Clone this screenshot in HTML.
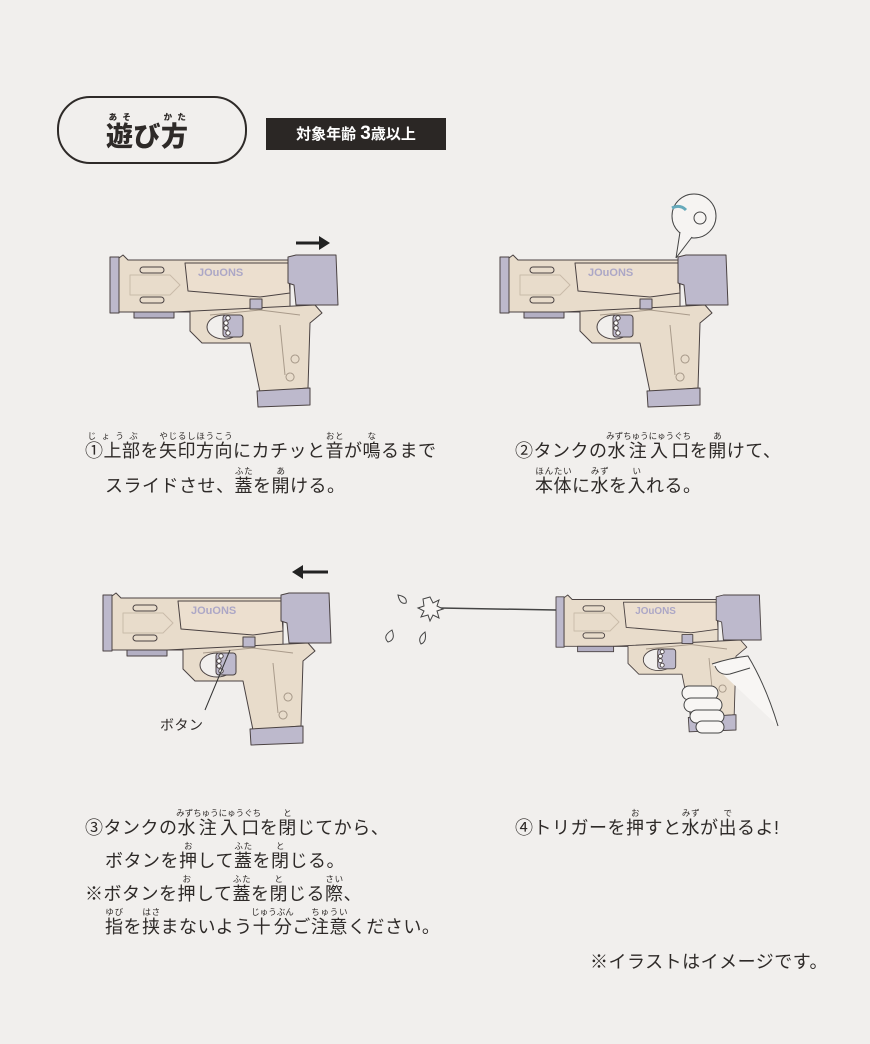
<!DOCTYPE html>
<html><head><meta charset="utf-8"><style>
body{margin:0;width:870px;height:1044px;background:#f1efed;position:relative;overflow:hidden;font-family:"Liberation Sans","Noto Sans CJK JP",sans-serif;color:#2e2a28}
.t{position:absolute;font-size:18px;line-height:22px;white-space:nowrap;letter-spacing:0.5px}
ruby rt{font-size:8.5px;letter-spacing:0;line-height:10px}
svg{position:absolute;left:0;top:0}
</style></head><body>
<div style="position:absolute;left:57px;top:96px;width:186px;height:64px;border:2px solid #2e2a28;border-radius:33px"></div>
<div class="t" style="left:106px;top:112px;font-size:27px;line-height:34px;font-weight:900"><ruby>遊<rt>あそ</rt></ruby>び<ruby>方<rt>かた</rt></ruby></div>
<div style="position:absolute;left:266px;top:118px;width:180px;height:32px;background:#2b2725;color:#fff;font-weight:bold;font-size:15px;line-height:32px;text-align:center">対象年齢 <span style="font-size:19px">3</span>歳以上</div>

<svg width="870" height="1044" viewBox="0 0 870 1044">
<defs>
<g id="gun" stroke="#4a4242" stroke-width="1" stroke-linejoin="round">
<rect x="0" y="2" width="9" height="56" fill="#bdb9cc"/>
<polygon points="9,3 13,0 18,5 180,5 180,57 9,57" fill="#e8dccb"/>
<polygon points="75,8 178,8 180,38 150,42 78,36" fill="#ecdfcf"/>
<rect x="24" y="57" width="40" height="6" fill="#b3afc3"/>
<polygon points="64,57 205,50 212,58 200,68 198,133 150,137 140,88 92,88 80,76 80,57" fill="#e8dccb"/>
<ellipse cx="114" cy="72" rx="17" ry="12" fill="#f1efed"/>
<rect x="113" y="60" width="20" height="22" rx="3" fill="#bdb9cc"/>
<circle cx="118" cy="63" r="2.2" fill="#fff"/><circle cx="116" cy="68" r="2.2" fill="#fff"/><circle cx="116" cy="73" r="2.2" fill="#fff"/><circle cx="118" cy="78" r="2.2" fill="#fff"/>
<polygon points="147,136 200,133 200,150 148,152" fill="#bdb9cc"/>
<polygon points="178,2 186,0 226,0 228,50 218,50 186,50 184,30 178,28" fill="#bdb9cc"/>
<rect x="140" y="44" width="12" height="10" fill="#bdb9cc"/>
<rect x="30" y="12" width="24" height="6" rx="3" fill="none"/><rect x="30" y="42" width="24" height="6" rx="3" fill="none"/>
<path d="M20 20 L60 20 L70 30 L60 40 L20 40 Z" fill="none" stroke="#c9bba9"/>
<path d="M100 60 L150 55 L190 60 M170 70 L175 120 M185 100 a4 4 0 1 0 0.1 0 M180 118 a4 4 0 1 0 0.1 0" fill="none" stroke="#a89a8a"/>
<text x="88" y="21" font-family="Liberation Sans" font-weight="bold" font-size="11" fill="#aca7c6" stroke="none">JOuONS</text>
</g>
</defs>
<use href="#gun" transform="translate(110,255)"/>
<use href="#gun" transform="translate(500,255)"/>
<use href="#gun" transform="translate(103,593)"/>
<use href="#gun" transform="translate(556,595) scale(0.9)"/>
<path d="M296 243 H322" stroke="#222" stroke-width="3"/><polygon points="330,243 319,236 319,250" fill="#222"/>
<path d="M328 572 H300" stroke="#222" stroke-width="3"/><polygon points="292,572 303,565 303,579" fill="#222"/>
<circle cx="694" cy="216" r="22" fill="#f6f4f2" stroke="#444"/>
<path d="M680 232 L676 258 L692 237" fill="#f6f4f2" stroke="#444"/>
<path d="M672 208 q8 -4 14 2" stroke="#6ab" stroke-width="3" fill="none"/>
<circle cx="700" cy="218" r="6" fill="none" stroke="#444"/>
<path d="M230 650 L205 710" stroke="#333"/>
<path d="M440 608 L556 610" stroke="#444" stroke-width="1.5"/>
<path d="M430 597 l3 6 6 -3 -2 6 6 3 -6 2 2 7 -6 -3 -3 6 -2 -6 -7 2 3 -6 -6 -3 6 -2 -1 -7z" fill="#f6f4f2" stroke="#444"/>
<path d="M398 595 q10 2 8 8 q-6 2 -8 -8z M392 630 q-10 6 -4 12 q8 -2 4 -12z M425 632 q-8 6 -4 12 q6 -2 4 -12z" fill="none" stroke="#444"/>
<!-- hand -->
<g fill="#f8f6f4" stroke="#444">
<path d="M712 664 q18 -6 36 -8 q18 30 30 70"/>
<path d="M715 666 q4 10 15 8 l20 -6"/>
<rect x="682" y="686" width="36" height="14" rx="7"/>
<rect x="684" y="698" width="38" height="14" rx="7"/>
<rect x="690" y="710" width="34" height="13" rx="6.5"/>
<rect x="696" y="721" width="28" height="12" rx="6"/>
</g>
</svg>

<div class="t" style="left:85px;top:431px"><ruby>①上部<rt>じょうぶ</rt></ruby>を<ruby>矢印<rt>やじるし</rt></ruby><ruby>方向<rt>ほうこう</rt></ruby>にカチッと<ruby>音<rt>おと</rt></ruby>が<ruby>鳴<rt>な</rt></ruby>るまで</div>
<div class="t" style="left:105px;top:466px">スライドさせ、<ruby>蓋<rt>ふた</rt></ruby>を<ruby>開<rt>あ</rt></ruby>ける。</div>
<div class="t" style="left:515px;top:431px">②タンクの<ruby>水注入口<rt>みずちゅうにゅうぐち</rt></ruby>を<ruby>開<rt>あ</rt></ruby>けて、</div>
<div class="t" style="left:535px;top:466px"><ruby>本体<rt>ほんたい</rt></ruby>に<ruby>水<rt>みず</rt></ruby>を<ruby>入<rt>い</rt></ruby>れる。</div>
<div class="t" style="left:160px;top:714px;font-size:14px">ボタン</div>
<div class="t" style="left:85px;top:808px">③タンクの<ruby>水注入口<rt>みずちゅうにゅうぐち</rt></ruby>を<ruby>閉<rt>と</rt></ruby>じてから、</div>
<div class="t" style="left:105px;top:841px">ボタンを<ruby>押<rt>お</rt></ruby>して<ruby>蓋<rt>ふた</rt></ruby>を<ruby>閉<rt>と</rt></ruby>じる。</div>
<div class="t" style="left:85px;top:874px">※ボタンを<ruby>押<rt>お</rt></ruby>して<ruby>蓋<rt>ふた</rt></ruby>を<ruby>閉<rt>と</rt></ruby>じる<ruby>際<rt>さい</rt></ruby>、</div>
<div class="t" style="left:105px;top:907px"><ruby>指<rt>ゆび</rt></ruby>を<ruby>挟<rt>はさ</rt></ruby>まないよう<ruby>十分<rt>じゅうぶん</rt></ruby>ご<ruby>注意<rt>ちゅうい</rt></ruby>ください。</div>
<div class="t" style="left:515px;top:808px">④トリガーを<ruby>押<rt>お</rt></ruby>すと<ruby>水<rt>みず</rt></ruby>が<ruby>出<rt>で</rt></ruby>るよ!</div>
<div class="t" style="left:590px;top:951px">※イラストはイメージです。</div>
</body></html>
